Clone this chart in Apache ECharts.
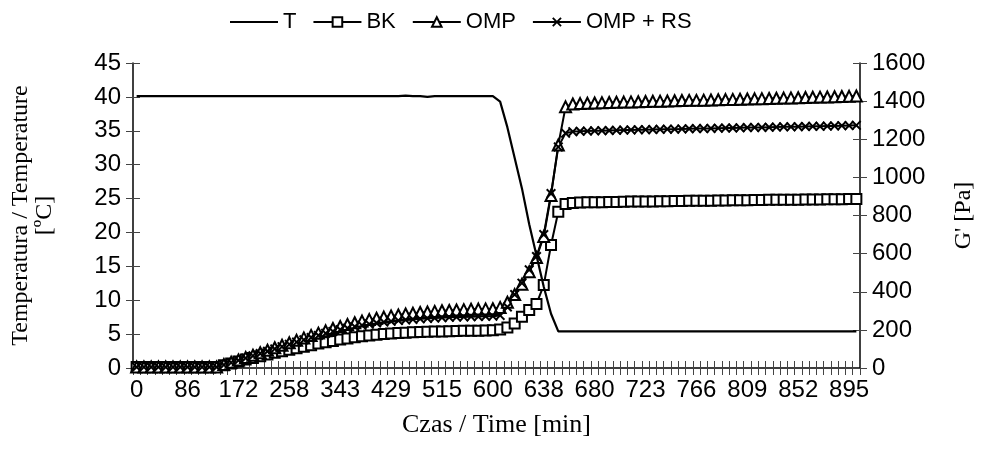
<!DOCTYPE html>
<html><head><meta charset="utf-8">
<script src="https://cdn.jsdelivr.net/npm/echarts@6/dist/echarts.min.js"></script>
<style>html,body{margin:0;padding:0;background:#fff}#c{width:989px;height:459px}</style>
</head><body><div id="c"></div>
<script>
// x tick labels (every 7th sample), time in minutes
const tickLabels = ['0','86','172','258','343','429','515','600','638','680','723','766','809','852','895'];
const labelEvery = 7;
const sampleCount = 100;
const categories = Array.from({length: sampleCount}, (_, i) => String(i));

const seriesT = [
 40.1,40.1,40.1,40.1,40.1,40.1,40.1,40.1,40.1,40.1,
 40.1,40.1,40.1,40.1,40.1,40.1,40.1,40.1,40.1,40.1,
 40.1,40.1,40.1,40.1,40.1,40.1,40.1,40.1,40.1,40.1,
 40.1,40.1,40.1,40.1,40.1,40.1,40.1,40.2,40.1,40.1,
 40.0,40.1,40.1,40.1,40.1,40.1,40.1,40.1,40.1,40.1,
 39.3,35.5,31.0,26.5,21.2,16.6,12.0,8.0,5.4,5.4,
 5.4,5.4,5.4,5.4,5.4,5.4,5.4,5.4,5.4,5.4,
 5.4,5.4,5.4,5.4,5.4,5.4,5.4,5.4,5.4,5.4,
 5.4,5.4,5.4,5.4,5.4,5.4,5.4,5.4,5.4,5.4,
 5.4,5.4,5.4,5.4,5.4,5.4,5.4,5.4,5.4,5.4
];
const seriesBK = [
 5,5,5,5,5,5,5,5,5,5,
 5,5,14,24,34,44,53,62,71,80,
 88,96,104,112,120,128,135,142,149,155,
 161,166,171,175,178,181,183,185,187,189,
 190,191,192,193,194,195,196,196,197,198,
 202,212,234,269,304,336,435,645,820,860,
 866,868,869,869,870,871,871,872,873,873,
 874,874,875,875,876,876,877,877,878,878,
 879,879,880,880,880,881,881,882,882,883,
 883,883,884,884,884,885,885,885,886,886
];
const seriesOMP = [
 5,5,5,5,5,5,5,5,5,5,
 5,5,18,30,42,55,67,80,93,106,
 119,132,145,158,171,183,195,207,218,228,
 237,246,254,261,267,273,278,283,287,291,
 294,297,300,302,304,306,308,309,310,311,
 318,345,385,440,505,580,690,905,1170,1370,
 1385,1387,1389,1390,1392,1393,1394,1395,1396,1397,
 1398,1399,1400,1401,1402,1403,1404,1404,1405,1406,
 1407,1408,1409,1410,1411,1412,1413,1414,1415,1416,
 1417,1418,1419,1420,1421,1422,1423,1424,1425,1427
];
const seriesRS = [
 5,5,5,5,5,5,5,5,5,5,
 5,5,16,28,40,52,64,76,88,100,
 112,124,136,148,160,171,182,192,201,209,
 217,224,230,236,241,245,249,252,255,258,
 260,262,264,266,267,268,269,270,271,272,
 276,320,385,445,515,585,700,915,1160,1232,
 1240,1242,1243,1244,1245,1246,1247,1248,1249,1250,
 1250,1251,1252,1253,1253,1254,1255,1256,1256,1257,
 1258,1259,1259,1260,1261,1262,1262,1263,1264,1265,
 1265,1266,1267,1268,1268,1269,1270,1271,1272,1273
];

const X_PATH = 'path://M0,1.4L1.4,0L5,3.6L8.6,0L10,1.4L6.4,5L10,8.6L8.6,10L5,6.4L1.4,10L0,8.6L3.6,5Z';
const black = '#000';
const tickStyle = {color: '#444', width: 1};
const plain = v => String(v);

const chart = echarts.init(document.getElementById('c'));
chart.setOption({
  animation: false,
  backgroundColor: '#fff',
  textStyle: {fontFamily: 'Liberation Sans, Arial, sans-serif', color: black},
  legend: {
    top: 6, left: 224, itemWidth: 48, itemHeight: 12, itemGap: 16,
    textStyle: {fontSize: 22, color: black, fontFamily: 'Liberation Sans, Arial, sans-serif'},
    data: [{name: 'T', itemStyle: {opacity: 0}}, 'BK', 'OMP', 'OMP + RS']
  },
  grid: {left: 133, right: 129, top: 63, bottom: 91},
  xAxis: [{
    type: 'category', data: categories, boundaryGap: true,
    name: 'Czas / Time [min]', nameLocation: 'middle', nameGap: 44,
    nameTextStyle: {fontFamily: 'Liberation Serif, Times New Roman, serif', fontSize: 26, color: black},
    axisLine: {lineStyle: {color: black, width: 1.5}},
    axisTick: {show: true, interval: 0, length: 7, lineStyle: tickStyle},
    axisLabel: {interval: labelEvery - 1, margin: 10, fontSize: 24, color: black,
      formatter: (v, i) => tickLabels[Math.round(i / labelEvery)] ?? ''},
    splitLine: {show: false}
  },{
    type: 'category', data: categories, boundaryGap: true, position: 'bottom',
    axisLine: {show: false},
    axisTick: {show: true, inside: true, interval: 0, length: 7, lineStyle: tickStyle},
    axisLabel: {show: false}, splitLine: {show: false}
  }],
  yAxis: [{
    type: 'value', min: 0, max: 45, interval: 5, position: 'left',
    name: 'Temperatura / Temperature\n[ºC]', nameLocation: 'middle', nameGap: 76,
    nameTextStyle: {fontFamily: 'Liberation Serif, Times New Roman, serif', fontSize: 24, color: black, lineHeight: 24},
    axisLine: {show: true, lineStyle: {color: black, width: 1.5}},
    axisTick: {show: true, length: 7, lineStyle: tickStyle},
    axisLabel: {margin: 12, fontSize: 24, color: black, formatter: plain},
    splitLine: {show: false}
  },{
    type: 'value', min: 0, max: 1600, interval: 200, position: 'right',
    name: "G' [Pa]", nameLocation: 'middle', nameGap: 92,
    nameTextStyle: {fontFamily: 'Liberation Serif, Times New Roman, serif', fontSize: 24, color: black},
    axisLine: {show: true, lineStyle: {color: black, width: 1.5}},
    axisTick: {show: true, length: 7, lineStyle: tickStyle},
    axisLabel: {margin: 12, fontSize: 24, color: black, formatter: plain},
    splitLine: {show: false}
  },{
    type: 'value', min: 0, max: 45, interval: 5, position: 'left',
    axisLine: {show: false}, axisTick: {show: true, inside: true, length: 7, lineStyle: tickStyle},
    axisLabel: {show: false}, splitLine: {show: false}
  },{
    type: 'value', min: 0, max: 1600, interval: 200, position: 'right',
    axisLine: {show: false}, axisTick: {show: true, inside: true, length: 7, lineStyle: tickStyle},
    axisLabel: {show: false}, splitLine: {show: false}
  }],
  series: [{
    name: 'T', type: 'line', yAxisIndex: 0, data: seriesT, symbol: 'none',
    lineStyle: {color: black, width: 2.2}, itemStyle: {color: black}, z: 5
  },{
    name: 'BK', type: 'line', yAxisIndex: 1, data: seriesBK,
    symbol: 'emptyRect', symbolSize: 10, showAllSymbol: true,
    lineStyle: {color: black, width: 2}, itemStyle: {color: black, borderWidth: 1.3}
  },{
    name: 'OMP', type: 'line', yAxisIndex: 1, data: seriesOMP,
    symbol: 'emptyTriangle', symbolSize: 11, showAllSymbol: true,
    lineStyle: {color: black, width: 2}, itemStyle: {color: black, borderWidth: 1.3}
  },{
    name: 'OMP + RS', type: 'line', yAxisIndex: 1, data: seriesRS,
    symbol: X_PATH, symbolSize: 10, showAllSymbol: true,
    lineStyle: {color: black, width: 2}, itemStyle: {color: black}
  }]
});
</script></body></html>
